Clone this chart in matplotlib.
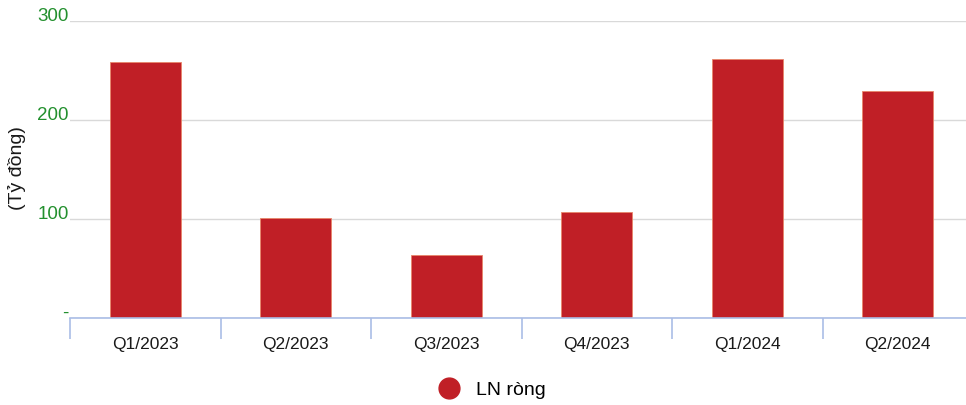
import matplotlib
matplotlib.use("Agg")
import matplotlib.pyplot as plt
import numpy as np
from matplotlib.lines import Line2D

categories = ["Q1/2023", "Q2/2023", "Q3/2023", "Q4/2023", "Q1/2024", "Q2/2024"]
values = [259, 101, 64, 107, 262, 229]
ytick_vals = [0, 100, 200, 300]
ytick_labels = ["-", "100", "200", "300"]
series_name = "LN ròng"
ylabel = "(Tỷ đồng)"

plt.rcParams['font.family'] = ['Liberation Sans', 'DejaVu Sans']

fig = plt.figure(figsize=(9.66, 4.05), dpi=100)
ax = fig.add_axes([70/966, 87/405, 903/966, 297/405])

x = np.arange(len(categories))
bar_color = '#C01F26'
ax.bar(x, values, width=0.47, color=bar_color, edgecolor='#E8866A', linewidth=0.6, zorder=3)

ax.set_xlim(-0.5, len(categories) - 0.5)
ax.set_ylim(0, 300)

ax.set_yticks(ytick_vals)
ax.set_yticklabels(ytick_labels, color='#23902E', fontsize=13.5)
for t in ax.get_yticklabels():
    t.set_verticalalignment('baseline')
ax.tick_params(axis='y', length=0, pad=1)
ax.yaxis.grid(True, color='#d9d9d9', linewidth=1.0, zorder=0)

ax.set_xticks(x)
ax.set_xticklabels(categories, fontsize=12.5, color='#1a1a1a')
ax.set_xticks(np.arange(-0.5, len(categories)), minor=True)
ax.tick_params(axis='x', which='major', length=0, pad=14)
ax.tick_params(axis='x', which='minor', length=15, width=1.2, color='#AABDE6', direction='out')

for s in ['top', 'right', 'left']:
    ax.spines[s].set_visible(False)
ax.spines['bottom'].set_color('#AABDE6')
ax.spines['bottom'].set_linewidth(1.2)
ax.spines['bottom'].set_zorder(4)

fig.text(17/966, 1 - 168/405, ylabel, rotation=90, ha='center', va='center', fontsize=14, color='#1a1a1a')

handle = Line2D([], [], marker='o', linestyle='none', markersize=15, markerfacecolor=bar_color, markeredgecolor=bar_color)
fig.legend([handle], [series_name], loc='center', bbox_to_anchor=(488/966, 1 - 390/405),
           frameon=False, fontsize=14, handletextpad=0.4)

fig.savefig("out.png", dpi=100)
